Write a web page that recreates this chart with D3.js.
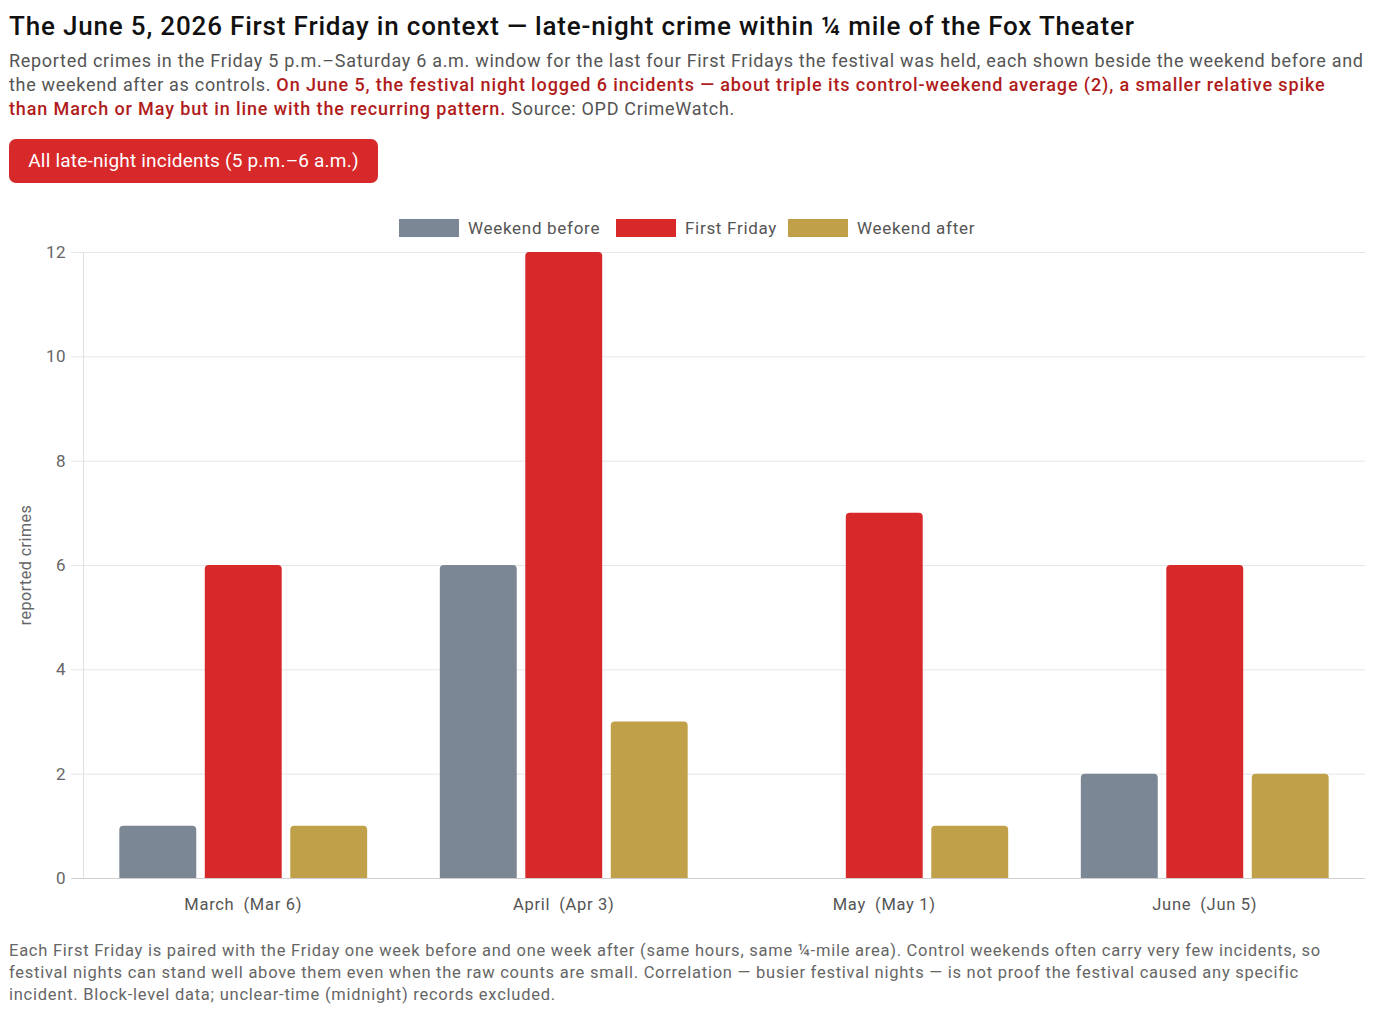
<!DOCTYPE html>
<html>
<head>
<meta charset="utf-8">
<script src="https://cdn.jsdelivr.net/npm/d3@7"></script>
<style>
  body { margin: 0; background: #fff; font-family: Roboto, "Noto Sans", sans-serif; }
  #title { position: absolute; left: 9px; top: 11px; font-size: 26px; letter-spacing: 0.82px; font-weight: 500; color: #111; white-space: nowrap; }
  #sub { position: absolute; left: 9px; top: 49px; font-size: 18px; letter-spacing: 0.7px; line-height: 24px; color: #555; white-space: nowrap; }
  #sub b { color: #b01c1c; font-weight: 500; letter-spacing: 0.88px; }
  #btn { position: absolute; left: 9px; top: 139px; width: 369px; height: 44px; border-radius: 7px; background: #d7282a;
         color: #fff; font-size: 19px; letter-spacing: 0.2px; line-height: 44px; text-align: center; }
  #foot { position: absolute; left: 9px; top: 940px; font-size: 16.5px; letter-spacing: 0.75px; line-height: 22px; color: #666; white-space: nowrap; }
  svg { position: absolute; left: 0; top: 0; }
</style>
</head>
<body>
<svg id="chart" width="1377" height="1030"></svg>
<div id="title">The June 5, 2026 First Friday in context — late-night crime within ¼ mile of the Fox Theater</div>
<div id="sub">Reported crimes in the Friday 5 p.m.–Saturday 6 a.m. window for the last four First Fridays the festival was held, each shown beside the weekend before and<br>the weekend after as controls. <b>On June 5, the festival night logged 6 incidents — about triple its control-weekend average (2), a smaller relative spike</b><br><b>than March or May but in line with the recurring pattern.</b> Source: OPD CrimeWatch.</div>
<div id="btn">All late-night incidents (5 p.m.–6 a.m.)</div>
<div id="foot">Each First Friday is paired with the Friday one week before and one week after (same hours, same ¼-mile area). Control weekends often carry very few incidents, so<br>festival nights can stand well above them even when the raw counts are small. Correlation — busier festival nights — is not proof the festival caused any specific<br>incident. Block-level data; unclear-time (midnight) records excluded.</div>
<script>
// data
var months = ["March\u2002(Mar 6)", "April\u2002(Apr 3)", "May\u2002(May 1)", "June\u2002(Jun 5)"];
var seriesNames = ["Weekend before", "First Friday", "Weekend after"];
var weekendBefore = [1, 6, 0, 2];
var firstFriday = [6, 12, 7, 6];
var weekendAfter = [1, 3, 1, 2];
var yTicks = [0, 2, 4, 6, 8, 10, 12];
var colors = ["#7b8794", "#d7282a", "#c0a048"];

var svg = d3.select("#chart");
var plotLeft = 83, plotRight = 1365, plotTop = 252, plotBottom = 878;

var x0 = d3.scaleBand().domain(months).range([plotLeft, plotRight]).padding(0);
var x1 = d3.scaleBand().domain(seriesNames)
    .range([x0.bandwidth() * 0.1, x0.bandwidth() * 0.9]).padding(0);
var y = d3.scaleLinear().domain([0, 12]).range([plotBottom, plotTop]);

// grid
svg.append("g").selectAll("line")
    .data(yTicks)
    .enter().append("line")
    .attr("x1", plotLeft - 12).attr("x2", plotRight)
    .attr("y1", function (d) { return y(d) + 0.5; })
    .attr("y2", function (d) { return y(d) + 0.5; })
    .attr("stroke", function (d) { return d === 0 ? "#cfcfcf" : "#e6e6e6"; })
    .attr("stroke-width", 1);

svg.append("line")
    .attr("x1", plotLeft + 0.5).attr("x2", plotLeft + 0.5)
    .attr("y1", plotTop).attr("y2", plotBottom)
    .attr("stroke", "#e0e0e0");

// y axis via d3.axisLeft, styled down
var yAxis = svg.append("g")
    .attr("transform", "translate(" + (plotLeft - 12) + ",0)")
    .call(d3.axisLeft(y).tickValues(yTicks).tickSize(0).tickPadding(5));
yAxis.select(".domain").remove();
yAxis.selectAll("text")
    .attr("font-family", "Roboto, sans-serif")
    .attr("font-size", 17)
    .attr("letter-spacing", "0.5px")
    .attr("fill", "#666");

svg.append("text")
    .attr("transform", "translate(31," + ((plotTop + plotBottom) / 2) + ") rotate(-90)")
    .attr("text-anchor", "middle")
    .attr("font-family", "Roboto, sans-serif")
    .attr("font-size", 16)
    .attr("letter-spacing", "0.5px")
    .attr("fill", "#666")
    .text("reported crimes");

// x axis labels
var xAxis = svg.append("g")
    .attr("transform", "translate(0," + plotBottom + ")")
    .call(d3.axisBottom(x0).tickSize(0).tickPadding(20));
xAxis.select(".domain").remove();
xAxis.selectAll("text")
    .attr("font-family", "Roboto, sans-serif")
    .attr("font-size", 16.5)
    .attr("letter-spacing", "0.7px")
    .attr("fill", "#555");

// bars
var rows = months.map(function (m, i) {
    return { month: m, values: [weekendBefore[i], firstFriday[i], weekendAfter[i]] };
});

function barPath(x, yTop, w, h, r) {
    if (h <= 0) return "";
    r = Math.min(r, h, w / 2);
    return "M" + x + "," + (yTop + h) +
        "V" + (yTop + r) +
        "Q" + x + "," + yTop + " " + (x + r) + "," + yTop +
        "H" + (x + w - r) +
        "Q" + (x + w) + "," + yTop + " " + (x + w) + "," + (yTop + r) +
        "V" + (yTop + h) + "Z";
}

var groups = svg.append("g").selectAll("g")
    .data(rows)
    .enter().append("g")
    .attr("transform", function (d) { return "translate(" + x0(d.month) + ",0)"; });

groups.selectAll("path")
    .data(function (d) {
        return d.values.map(function (v, j) { return { name: seriesNames[j], value: v, idx: j }; });
    })
    .enter().append("path")
    .attr("fill", function (d) { return colors[d.idx]; })
    .attr("d", function (d) {
        var slot = x1.bandwidth();
        var w = slot * 0.9;
        var bx = x1(d.name) + (slot - w) / 2;
        return barPath(bx, y(d.value), w, y(0) - y(d.value), 4);
    });

// legend
var legendX = [399, 616, 788];
var legend = svg.append("g").selectAll("g")
    .data(seriesNames)
    .enter().append("g")
    .attr("transform", function (d, i) { return "translate(" + legendX[i] + ",219)"; });
legend.append("rect")
    .attr("width", 60).attr("height", 18)
    .attr("fill", function (d, i) { return colors[i]; });
legend.append("text")
    .attr("x", 69).attr("y", 9)
    .attr("dominant-baseline", "central")
    .attr("font-family", "Roboto, sans-serif")
    .attr("font-size", 17)
    .attr("letter-spacing", "0.7px")
    .attr("fill", "#555")
    .text(function (d) { return d; });
</script>
</body>
</html>
